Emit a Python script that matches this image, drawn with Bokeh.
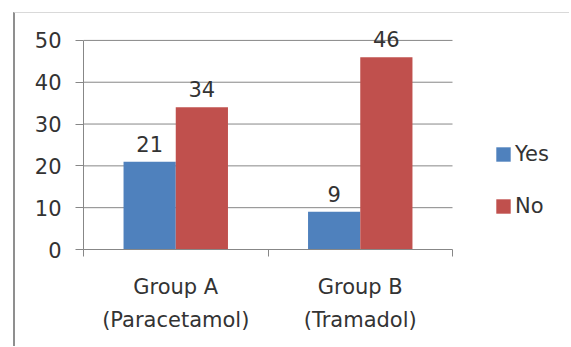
from bokeh.plotting import figure
from bokeh.models import (Range1d, FixedTicker, ColumnDataSource, Legend, LegendItem)
from bokeh.transform import dodge
from bokeh.core.properties import value
from bokeh.embed import file_html
from bokeh.resources import INLINE

groups = ["Group A\n(Paracetamol)", "Group B\n(Tramadol)"]
yes_vals = [21, 9]
no_vals = [34, 46]
y_ticks = [0, 10, 20, 30, 40, 50]

FONT = "DejaVu Sans"
TXT = "#333333"
AX = "#878787"

n = len(groups)
xpos = [i + 0.5 for i in range(n)]
src = ColumnDataSource(dict(x=xpos, yes=yes_vals, no=no_vals,
                            yes_t=[str(v) for v in yes_vals],
                            no_t=[str(v) for v in no_vals]))

# frame spans canvas x 68..556; categories occupy 68..437
frame_w = 556 - 68
cat_w = (437 - 68) / n
p = figure(width=556, height=334, output_backend="svg", toolbar_location=None,
           x_range=Range1d(0, frame_w / cat_w), y_range=Range1d(0, 55),
           min_border_left=68, min_border_right=0, min_border_top=6,
           min_border_bottom=98)
p.margin = (12, 0, 0, 13)
p.styles = {"border-top": "1px solid #d9d9d9", "border-left": "2px solid #8f8f8f"}
p.outline_line_color = None
p.background_fill_color = "white"
p.border_fill_color = "white"

# horizontal grid lines limited to the category area
gsrc = ColumnDataSource(dict(y=y_ticks[1:], x0=[0] * (len(y_ticks) - 1),
                             x1=[n] * (len(y_ticks) - 1)))
p.segment(x0="x0", x1="x1", y0="y", y1="y", source=gsrc, line_color=AX, line_width=1)

bw = 0.283
r_yes = p.vbar(x=dodge("x", -bw / 2, range=p.x_range), top="yes", width=bw,
               source=src, fill_color="#4F81BD", line_color=None)
r_no = p.vbar(x=dodge("x", bw / 2, range=p.x_range), top="no", width=bw,
              source=src, fill_color="#C0504D", line_color=None)

for col, off in (("yes", -bw / 2), ("no", bw / 2)):
    p.text(x=dodge("x", off, range=p.x_range), y=col, text=col + "_t", source=src,
           text_align="center", text_baseline="alphabetic", y_offset=-18,
           text_font=value(FONT), text_font_size="21px", text_color=TXT)

# y axis
p.yaxis.ticker = FixedTicker(ticks=y_ticks)
p.yaxis.bounds = (0, 50)
p.yaxis.major_tick_out = 8
p.yaxis.major_tick_in = 0
p.yaxis.minor_tick_line_color = None
p.yaxis.axis_line_color = AX
p.yaxis.major_tick_line_color = AX
p.yaxis.major_label_text_font = FONT
p.yaxis.major_label_text_font_size = "21px"
p.yaxis.major_label_text_color = TXT
p.yaxis.major_label_standoff = 14
p.ygrid.grid_line_color = None

# x axis
p.xaxis.ticker = FixedTicker(ticks=xpos, minor_ticks=list(range(n + 1)))
p.xaxis.bounds = (0, n)
p.xaxis.major_label_overrides = {xv: g for xv, g in zip(xpos, groups)}
p.xaxis.major_tick_line_color = None
p.xaxis.major_tick_out = 0
p.xaxis.minor_tick_line_color = AX
p.xaxis.minor_tick_out = 7
p.xaxis.minor_tick_in = 0
p.xaxis.axis_line_color = AX
p.xaxis.major_label_text_font = FONT
p.xaxis.major_label_text_font_size = "21px"
p.xaxis.major_label_text_color = TXT
p.xaxis.major_label_text_line_height = 1.4
p.xaxis.major_label_standoff = 18
p.xgrid.grid_line_color = None

legend = Legend(items=[LegendItem(label="Yes", renderers=[r_yes]),
                       LegendItem(label="No", renderers=[r_no])],
                location=(411, 31), orientation="vertical",
                glyph_width=18, glyph_height=18, label_standoff=3,
                spacing=28, padding=0, margin=0,
                border_line_color=None, background_fill_alpha=0,
                label_text_font=FONT, label_text_font_size="21px",
                label_text_color=TXT)
p.add_layout(legend, "center")

open("out.html", "w").write(file_html(p, INLINE))
